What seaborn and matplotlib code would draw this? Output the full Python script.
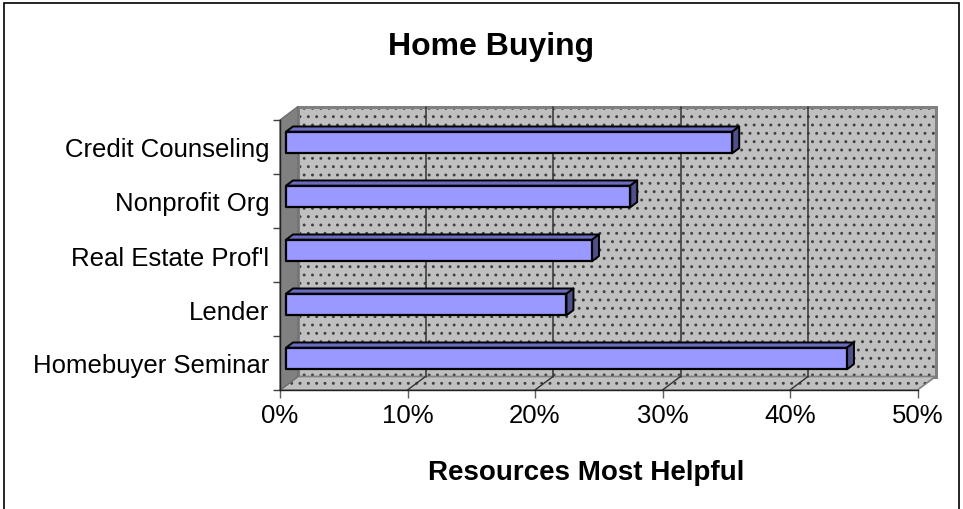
import matplotlib
matplotlib.use("Agg")
import matplotlib.pyplot as plt
import seaborn as sns
import pandas as pd
from matplotlib.patches import Polygon, Rectangle
from matplotlib.lines import Line2D
from matplotlib.transforms import IdentityTransform

# ---- data ----
categories = ["Credit Counseling", "Nonprofit Org", "Real Estate Prof'l", "Lender", "Homebuyer Seminar"]
values = [35, 27, 24, 22, 44]
x_ticks = [0, 10, 20, 30, 40, 50]
x_tick_labels = ["0%", "10%", "20%", "30%", "40%", "50%"]
title = "Home Buying"
x_title = "Resources Most Helpful"

sns.set_theme(style="white")
plt.rcParams["font.family"] = ["Liberation Sans", "DejaVu Sans"]
plt.rcParams["text.color"] = "black"
plt.rcParams["hatch.linewidth"] = 0.9

W, H = 963, 510
fig = plt.figure(figsize=(W / 100, H / 100), dpi=100)
fig.patch.set_facecolor("white")

# front plane of the 3-D box, in pixels from the top-left corner
PX0, PX1, PY_TOP, PY_BOT = 280, 917.5, 121, 391
ax = fig.add_axes([PX0 / W, (H - PY_BOT) / H, (PX1 - PX0) / W, (PY_BOT - PY_TOP) / H])
ax.patch.set_visible(False)

df = pd.DataFrame({"category": categories, "value": values})
sns.barplot(data=df, x="value", y="category", orient="h", color="#9999FF",
            saturation=1, edgecolor="black", linewidth=1.6, width=0.4, ax=ax)
bars = list(ax.patches)

ax.set_xlim(0, 50)
ax.set_ylim(len(categories) - 0.5, -0.5)

DEPTH = (18.0, 13.5)          # full depth of the box, pixels (right, up)
BAR_D0, BAR_D1 = 0.33, 0.72   # depth span occupied by the bars


def px(x, y, d=0.0):
    """data point -> display pixels, pushed back by a fraction d of the depth"""
    X, Y = ax.transData.transform((x, y))
    return (X + d * DEPTH[0], Y + d * DEPTH[1])


ident = IdentityTransform()
ytop, ybot = -0.5, len(categories) - 0.5
wall_grey = "#C0C0C0"
dot_col = "#404040"
edge_grey = "#808080"


def add_poly(pts, z, **kw):
    p = Polygon(pts, closed=True, transform=ident, clip_on=False, zorder=z, **kw)
    ax.add_artist(p)
    return p


# back wall
back = [px(0, ytop, 1), px(50, ytop, 1), px(50, ybot, 1), px(0, ybot, 1)]
add_poly(back, 0.1, facecolor=wall_grey, edgecolor=dot_col, linewidth=0, hatch="..")
add_poly(back, 0.2, fill=False, edgecolor=edge_grey, linewidth=2.2)

# floor
floor = [px(0, ybot, 0), px(50, ybot, 0), px(50, ybot, 1), px(0, ybot, 1)]
add_poly(floor, 0.3, facecolor=wall_grey, edgecolor=dot_col, linewidth=0, hatch="..")
add_poly(floor, 0.35, fill=False, edgecolor=edge_grey, linewidth=1.2)

# gridlines on the back wall and their traces across the floor
for t in x_ticks[1:-1]:
    x0, y0 = px(t, ytop, 1)
    x1, y1 = px(t, ybot, 1)
    ax.add_artist(Line2D([x0, x1], [y0, y1], color="#333333", lw=1.1,
                         transform=ident, clip_on=False, zorder=0.4))
    fx, fy = px(t, ybot, 0)
    ax.add_artist(Line2D([fx, x1], [fy, y1], color="#333333", lw=1.0,
                         transform=ident, clip_on=False, zorder=0.4))

# left side wall
side = [px(0, ytop, 0), px(0, ytop, 1), px(0, ybot, 1), px(0, ybot, 0)]
add_poly(side, 0.5, facecolor="#808080", edgecolor="#6E6E6E", linewidth=1)

# bars: front face pushed back, plus top and end faces
for bar in bars:
    x0 = bar.get_x()
    y0 = bar.get_y()
    w = bar.get_width()
    h = bar.get_height()
    yt, yb = min(y0, y0 + h), max(y0, y0 + h)
    xe = x0 + w
    front = [px(x0, yt, BAR_D0), px(xe, yt, BAR_D0), px(xe, yb, BAR_D0), px(x0, yb, BAR_D0)]
    top = [px(x0, yt, BAR_D0), px(x0, yt, BAR_D1), px(xe, yt, BAR_D1), px(xe, yt, BAR_D0)]
    end = [px(xe, yt, BAR_D0), px(xe, yt, BAR_D1), px(xe, yb, BAR_D1), px(xe, yb, BAR_D0)]
    bar.set_visible(False)
    add_poly(top, 3, facecolor="#6B6BC0", edgecolor="black", linewidth=1.4, joinstyle="round")
    add_poly(end, 3, facecolor="#4F4F8A", edgecolor="black", linewidth=1.4, joinstyle="round")
    add_poly(front, 3.1, facecolor="#9999FF", edgecolor="black", linewidth=1.6, joinstyle="round")

# axes and ticks
for s in ["top", "right"]:
    ax.spines[s].set_visible(False)
for s in ["left", "bottom"]:
    ax.spines[s].set_visible(True)
    ax.spines[s].set_color("#202020")
    ax.spines[s].set_linewidth(1.0)
    ax.spines[s].set_zorder(5)

ax.set_xticks(x_ticks)
ax.set_xticklabels(x_tick_labels)
ax.set_yticks(range(len(categories)))
ax.set_yticklabels(categories)
ax.set_yticks([i - 0.5 for i in range(len(categories) + 1)], minor=True)
ax.tick_params(axis="x", which="major", direction="out", length=5.5, width=1,
               color="#606060", labelsize=18.5, pad=4, bottom=True, labelcolor="black")
ax.tick_params(axis="y", which="major", length=0, labelsize=18.5, pad=7.5, labelcolor="black")
ax.tick_params(axis="y", which="minor", direction="out", length=5, width=1,
               color="#404040", left=True)
ax.set_xlabel("")
ax.set_ylabel("")
ax.grid(False)

# titles
fig.text(491.5 / W, 1 - 47 / H, title, ha="center", va="center",
         fontsize=23, fontweight="bold", color="black")
fig.text(586 / W, 1 - 473 / H, x_title, ha="center", va="center",
         fontsize=20, fontweight="bold", color="black")

# chart frame
fig.add_artist(Rectangle((3.5, -20), 955, (H - 3.5) + 20, transform=ident,
                         fill=False, edgecolor="black", linewidth=1.2))

fig.savefig("out.png", dpi=100, facecolor="white")
